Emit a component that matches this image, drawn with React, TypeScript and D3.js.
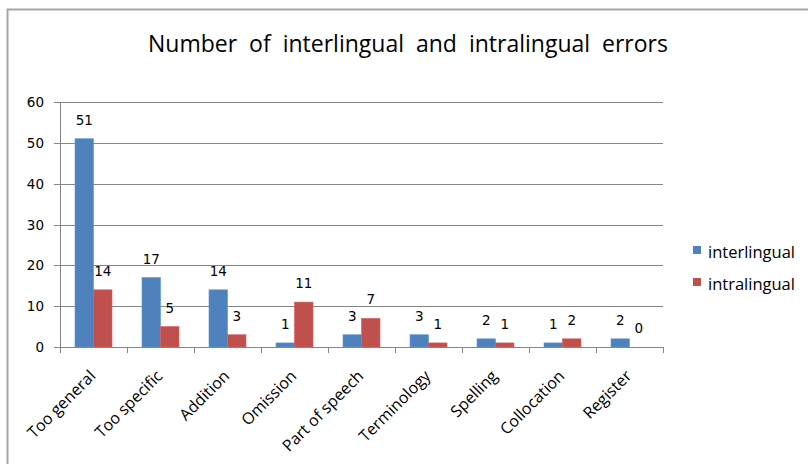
import React from "react";
import * as d3 from "d3";

const categories = ["Too general", "Too specific", "Addition", "Omission", "Part of speech", "Terminology", "Spelling", "Collocation", "Register"];
const interlingual = [51, 17, 14, 1, 3, 3, 2, 1, 2];
const intralingual = [14, 5, 3, 11, 7, 1, 1, 2, 0];
const yTicks = [0, 10, 20, 30, 40, 50, 60];
const seriesNames = ["interlingual", "intralingual"];
const colors = ["#4F81BD", "#C0504D"];

const W = 808;
const H = 464;
const FONT = "'DejaVu Sans', 'Noto Sans', sans-serif";
const TITLE_FONT = "'Open Sans', 'Noto Sans', sans-serif";

export default function App() {
  const left = 60, right = 663, top = 102, bottom = 347;
  const x = d3.scaleBand<string>().domain(categories).range([left, right]);
  const y = d3.scaleLinear().domain([0, 60]).range([bottom, top]);
  const barW = 18.5;
  const series = [interlingual, intralingual];
  const boundaries = d3.range(categories.length + 1).map((i) => left + i * x.step());

  return (
    <svg width={W} height={H} style={{ position: "absolute", left: 0, top: 0, background: "#fff" }}>
      <rect x={0} y={0} width={W} height={H} fill="#fff" />
      {/* outer frame */}
      <line x1={7} y1={9.5} x2={W} y2={9.5} stroke="#a6a6a6" strokeWidth={2} />
      <line x1={7.5} y1={9} x2={7.5} y2={H} stroke="#a6a6a6" strokeWidth={2} />

      <text x={408} y={52} textAnchor="middle" fontFamily={TITLE_FONT} fontSize={23} fill="#000" wordSpacing={6}>
        Number of interlingual and intralingual errors
      </text>

      {/* gridlines and y axis */}
      {yTicks.map((t) => (
        <g key={t}>
          <line x1={left - 6} x2={right} y1={Math.round(y(t)) + 0.5} y2={Math.round(y(t)) + 0.5} stroke="#868686" strokeWidth={1} />
          <text x={44} y={y(t) + 5} textAnchor="end" fontFamily={FONT} fontSize={13.5} fill="#000">{t}</text>
        </g>
      ))}
      <line x1={left + 0.5} x2={left + 0.5} y1={top} y2={bottom} stroke="#868686" />
      {boundaries.map((b, i) => (
        <line key={i} x1={Math.round(b) + 0.5} x2={Math.round(b) + 0.5} y1={bottom} y2={bottom + 6} stroke="#868686" />
      ))}

      {/* bars */}
      {series.map((vals, si) =>
        vals.map((v, i) => {
          const cx = (x(categories[i]) as number) + x.bandwidth() / 2;
          const bx = cx - barW + si * barW;
          return (
            <g key={`${si}-${i}`}>
              {v > 0 && (
                <rect x={bx} y={y(v)} width={barW} height={y(0) - y(v)} fill={colors[si]} stroke={d3.color(colors[si])!.brighter(0.4).toString()} strokeWidth={0.6} />
              )}
              <text x={bx + barW / 2} y={y(v) - 14} textAnchor="middle" fontFamily={FONT} fontSize={13.5} fill="#000">{v}</text>
            </g>
          );
        })
      )}

      {/* category labels */}
      {categories.map((c) => {
        const cx = (x(c) as number) + x.bandwidth() / 2 + 3;
        const ty = bottom + 30;
        return (
          <text key={c} x={cx} y={ty} transform={`rotate(-45 ${cx} ${ty})`} textAnchor="end" fontFamily={TITLE_FONT} fontSize={16} fill="#000">
            {c}
          </text>
        );
      })}

      {/* legend */}
      {seriesNames.map((n, i) => (
        <g key={n}>
          <rect x={693} y={246 + i * 32} width={8} height={8} fill={colors[i]} />
          <text x={708} y={258 + i * 32} fontFamily={TITLE_FONT} fontSize={16.5} fill="#000">{n}</text>
        </g>
      ))}
    </svg>
  );
}
